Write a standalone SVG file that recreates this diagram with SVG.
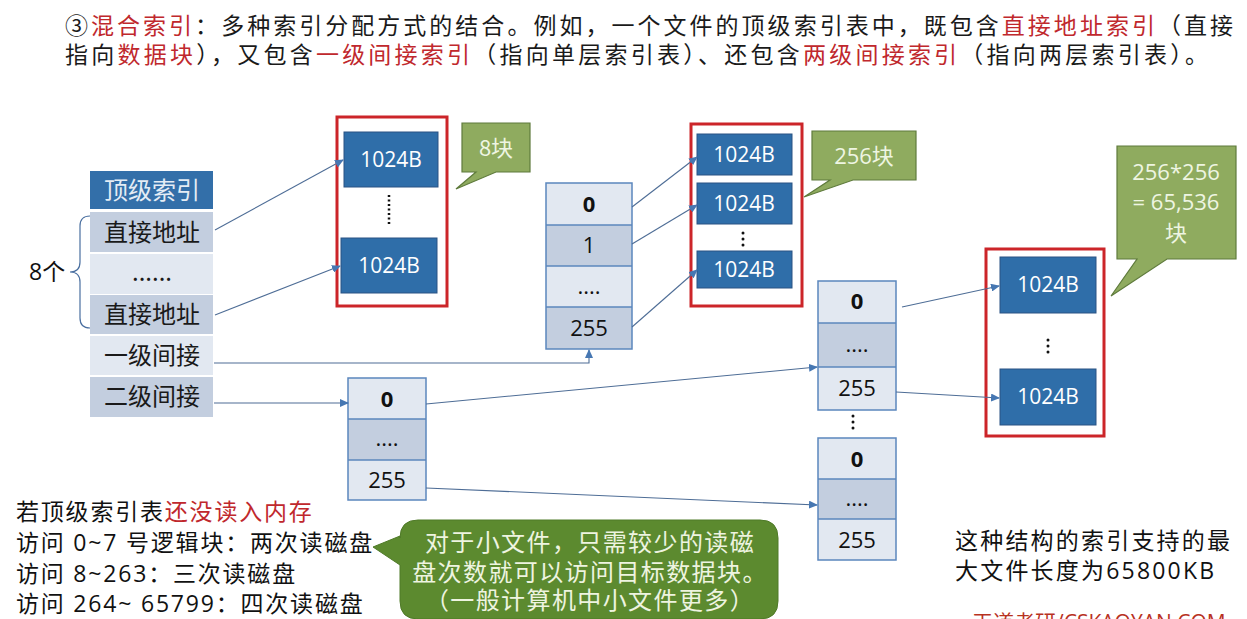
<svg xmlns="http://www.w3.org/2000/svg" width="1247" height="619" viewBox="0 0 1247 619">
<defs>
<marker id="ah" markerWidth="9" markerHeight="8" refX="8" refY="4" orient="auto" markerUnits="userSpaceOnUse">
<path d="M0,0 L9,4 L0,8 Z" fill="#4677b2"/>
</marker>
<style>
.cjk{font-family:"Noto Sans CJK SC",sans-serif}
.lat{font-family:"Open Sans","Noto Sans CJK SC",sans-serif}
.red{fill:#c0282d}
.blk{fill:#2f6ea9;stroke:#2a5383;stroke-width:1}
.blkt{fill:#ffffff;font-family:"Open Sans",sans-serif;font-size:21px;text-anchor:middle}
.redbox{fill:none;stroke:#cc2529;stroke-width:3}
.cl{fill:#e2e8f1}
.cm{fill:#c3cedf}
.tbl{fill:none;stroke:#5b87bd;stroke-width:1.5}
.sep{stroke:#5b87bd;stroke-width:1.5}
.num{font-family:"Open Sans",sans-serif;font-size:22px;text-anchor:middle;fill:#111}
.callout{fill:#8fab5f;stroke:#5f7b3c;stroke-width:1.2}
.ct{fill:#eef5e2;font-size:22px;text-anchor:middle}
.conn{stroke:#4e6d96;stroke-width:1.1;fill:none;marker-end:url(#ah)}
.row{font-family:"Noto Sans CJK SC",sans-serif;font-size:24px;text-anchor:middle;fill:#1a1a1a}
.txt{font-size:23px;fill:#111}
.bub{font-family:"Noto Sans CJK SC",sans-serif;font-size:24px;text-anchor:middle;fill:#eef4e0;letter-spacing:1.4px}
.dot{fill:#111}
</style>
</defs>

<g id="title" class="cjk" font-size="23" fill="#1a1a1a">
<text x="65" y="34" textLength="1168" lengthAdjust="spacing">③<tspan class="red">混合索引</tspan>：多种索引分配方式的结合。例如，一个文件的顶级索引表中，既包含<tspan class="red">直接地址索引</tspan>（直接</text>
<text x="65" y="63" textLength="1143" lengthAdjust="spacing">指向<tspan class="red">数据块</tspan>），又包含<tspan class="red">一级间接索引</tspan>（指向单层索引表）、还包含<tspan class="red">两级间接索引</tspan>（指向两层索引表）。</text>
</g>

<g id="top-index">
<rect x="90" y="171" width="123" height="38" fill="#336fa9"/>
<text x="152" y="199" class="row" style="fill:#e4ecf5">顶级索引</text>
<rect x="90" y="212" width="123" height="40" class="cm"/>
<text x="152" y="241" class="row">直接地址</text>
<rect x="90" y="254" width="123" height="40" class="cl"/>
<text x="152" y="281" class="row" font-size="20">......</text>
<rect x="90" y="295" width="123" height="39" class="cm"/>
<text x="152" y="323" class="row">直接地址</text>
<rect x="90" y="336" width="123" height="39" class="cl"/>
<text x="152" y="364" class="row">一级间接</text>
<rect x="90" y="377" width="123" height="40" class="cm"/>
<text x="152" y="405" class="row">二级间接</text>
</g>

<g id="brace-8">
<path d="M90,216 Q80,216 80,226 L80,262 Q80,272 70,272 Q80,272 80,282 L80,318 Q80,328 90,328" fill="none" stroke="#4a6fa0" stroke-width="1.2"/>
<text x="29" y="280" class="lat" font-size="23" fill="#111">8个</text>
</g>

<g id="direct-blocks">
<rect x="337" y="117" width="110" height="189" class="redbox"/>
<rect x="344" y="132" width="94" height="55" class="blk"/>
<text x="391" y="167" class="blkt">1024B</text>
<line x1="389" y1="195" x2="389" y2="226" stroke="#111" stroke-width="2.5" stroke-dasharray="2,2.5"/>
<rect x="341" y="238" width="96" height="55" class="blk"/>
<text x="389" y="273" class="blkt">1024B</text>
</g>

<g id="callout-8">
<path d="M462,123 H530 V172 H496 L456,189 L476,172 H462 Z" class="callout"/>
<text x="496" y="156" class="ct cjk">8块</text>
</g>

<g id="single-index">
<rect x="546" y="183" width="86" height="42" class="cl"/>
<rect x="546" y="225" width="86" height="41" class="cm"/>
<rect x="546" y="266" width="86" height="41" class="cl"/>
<rect x="546" y="307" width="86" height="42" class="cm"/>
<rect x="546" y="183" width="86" height="166" class="tbl"/>
<line x1="546" y1="225" x2="632" y2="225" class="sep"/>
<line x1="546" y1="266" x2="632" y2="266" class="sep"/>
<line x1="546" y1="307" x2="632" y2="307" class="sep"/>
<text x="589" y="212" class="num" font-weight="bold">0</text>
<text x="589" y="253" class="num">1</text>
<text x="589" y="294" class="num">....</text>
<text x="589" y="336" class="num">255</text>
</g>

<g id="single-blocks">
<rect x="691" y="124" width="111" height="182" class="redbox"/>
<rect x="697" y="134" width="95" height="41" class="blk"/>
<text x="744" y="162" class="blkt">1024B</text>
<rect x="697" y="183" width="95" height="41" class="blk"/>
<text x="744" y="211" class="blkt">1024B</text>
<circle cx="743" cy="233" r="1.5" class="dot"/>
<circle cx="743" cy="239" r="1.5" class="dot"/>
<circle cx="743" cy="245" r="1.5" class="dot"/>
<rect x="697" y="251" width="95" height="37" class="blk"/>
<text x="744" y="277" class="blkt">1024B</text>
</g>

<g id="callout-256">
<path d="M812,131 H916 V180 H853 L804,197 L830,180 H812 Z" class="callout"/>
<text x="864" y="164" class="ct lat">256块</text>
</g>

<g id="double-index-1">
<rect x="348" y="378" width="78" height="41" class="cl"/>
<rect x="348" y="419" width="78" height="41" class="cm"/>
<rect x="348" y="460" width="78" height="40" class="cl"/>
<rect x="348" y="378" width="78" height="122" class="tbl"/>
<line x1="348" y1="419" x2="426" y2="419" class="sep"/>
<line x1="348" y1="460" x2="426" y2="460" class="sep"/>
<text x="387" y="407" class="num" font-weight="bold">0</text>
<text x="387" y="446" class="num">....</text>
<text x="387" y="488" class="num">255</text>
</g>

<g id="double-index-2a">
<rect x="818" y="281" width="78" height="42" class="cl"/>
<rect x="818" y="323" width="78" height="44" class="cm"/>
<rect x="818" y="367" width="78" height="43" class="cl"/>
<rect x="818" y="281" width="78" height="129" class="tbl"/>
<line x1="818" y1="323" x2="896" y2="323" class="sep"/>
<line x1="818" y1="367" x2="896" y2="367" class="sep"/>
<text x="857" y="309" class="num" font-weight="bold">0</text>
<text x="857" y="352" class="num">....</text>
<text x="857" y="396" class="num">255</text>
</g>

<g id="dots-between">
<circle cx="853" cy="416" r="1.5" class="dot"/>
<circle cx="853" cy="422" r="1.5" class="dot"/>
<circle cx="853" cy="428" r="1.5" class="dot"/>
</g>

<g id="double-index-2b">
<rect x="818" y="438" width="78" height="41" class="cl"/>
<rect x="818" y="479" width="78" height="40" class="cm"/>
<rect x="818" y="519" width="78" height="41" class="cl"/>
<rect x="818" y="438" width="78" height="122" class="tbl"/>
<line x1="818" y1="479" x2="896" y2="479" class="sep"/>
<line x1="818" y1="519" x2="896" y2="519" class="sep"/>
<text x="857" y="467" class="num" font-weight="bold">0</text>
<text x="857" y="506" class="num">....</text>
<text x="857" y="548" class="num">255</text>
</g>

<g id="double-blocks">
<rect x="986" y="249" width="118" height="187" class="redbox"/>
<rect x="1000" y="257" width="96" height="56" class="blk"/>
<text x="1048" y="292" class="blkt">1024B</text>
<circle cx="1048" cy="340" r="1.5" class="dot"/>
<circle cx="1048" cy="346" r="1.5" class="dot"/>
<circle cx="1048" cy="352" r="1.5" class="dot"/>
<rect x="1000" y="369" width="96" height="56" class="blk"/>
<text x="1048" y="404" class="blkt">1024B</text>
</g>

<g id="callout-65536">
<path d="M1117,146 H1236 V259 H1167 L1111,296 L1137,259 H1117 Z" class="callout"/>
<text x="1176" y="180" class="ct lat">256*256</text>
<text x="1176" y="210" class="ct lat">= 65,536</text>
<text x="1176" y="241" class="ct cjk">块</text>
</g>

<g id="connectors">
<line x1="215" y1="230" x2="343" y2="160" class="conn"/>
<line x1="215" y1="315" x2="340" y2="266" class="conn"/>
<polyline points="214,363 589,363 589,350" class="conn"/>
<line x1="214" y1="403" x2="348" y2="403" class="conn"/>
<line x1="632" y1="207" x2="697" y2="157" class="conn"/>
<line x1="632" y1="244" x2="697" y2="205" class="conn"/>
<line x1="632" y1="327" x2="697" y2="270" class="conn"/>
<line x1="426" y1="404" x2="817" y2="367" class="conn"/>
<line x1="426" y1="488" x2="817" y2="505" class="conn"/>
<line x1="902" y1="307" x2="999" y2="286" class="conn"/>
<line x1="896" y1="392" x2="999" y2="398" class="conn"/>
</g>

<g id="notes-left" class="lat txt">
<text x="16" y="520" letter-spacing="1.8">若顶级索引表<tspan class="red">还没读入内存</tspan></text>
<text x="16" y="551" letter-spacing="1.8">访问 0~7 号逻辑块：两次读磁盘</text>
<text x="16" y="582" letter-spacing="1.8">访问 8~263：三次读磁盘</text>
<text x="16" y="612" letter-spacing="1.8">访问 264~ 65799：四次读磁盘</text>
</g>

<g id="bubble-small-files">
<path d="M418,520 H760 Q778,520 778,538 V601 Q778,619 760,619 H418 Q400,619 400,601 V565 L373,547 L400,536 V538 Q400,520 418,520 Z" fill="#5c8a2f" stroke="#4f7a28" stroke-width="1"/>
<text x="590" y="551" class="bub">对于小文件，只需较少的读磁</text>
<text x="590" y="581" class="bub">盘次数就可以访问目标数据块。</text>
<text x="590" y="609" class="bub">（一般计算机中小文件更多）</text>
</g>

<g id="notes-right" class="lat txt">
<text x="955" y="549" letter-spacing="2.2">这种结构的索引支持的最</text>
<text x="955" y="579" letter-spacing="2.2">大文件长度为65800KB</text>
</g>

<g id="watermark">
<text x="972" y="630" class="lat" font-size="21" fill="#b8321f">王道考研/CSKAOYAN.COM</text>
</g>
</svg>
